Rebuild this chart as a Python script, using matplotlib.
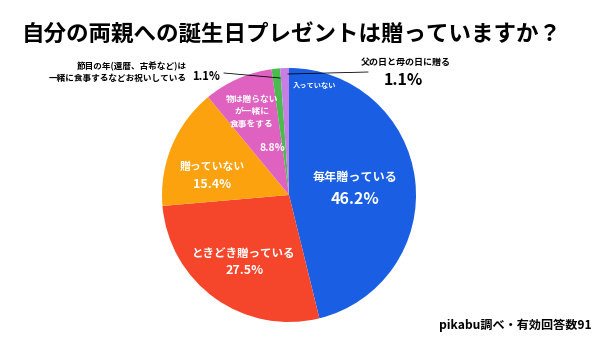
import matplotlib
matplotlib.use("Agg")
import matplotlib.pyplot as plt

plt.rcParams['font.family'] = ['Noto Sans CJK JP', 'DejaVu Sans']

labels = ['毎年贈っている', 'ときどき贈っている', '贈っていない',
          '物は贈らない\nが一緒に\n食事をする', '節目の年', '父の日と母の日に贈る']
values = [46.2, 27.5, 15.4, 8.8, 1.1, 1.1]
colors = ['#1a5fe3', '#f5452b', '#fca20f', '#df62c1', '#4cbb4f', '#c67fe2']

fig = plt.figure(figsize=(6, 3.37), dpi=100)
ax = fig.add_axes([(289 - 127) / 600, 1 - (195 + 127) / 337, 254 / 600, 254 / 337])
ax.pie(values, colors=colors, startangle=90, counterclock=False,
       wedgeprops=dict(linewidth=0))
ax.set_aspect('equal')
ax.set_xlim(-1, 1)
ax.set_ylim(-1, 1)
ax.axis('off')

def fx(px):
    return px / 600

def fy(py):
    return 1 - py / 337

fig.text(fx(22), fy(35), '自分の両親への誕生日プレゼントは贈っていますか？',
         fontsize=16.2, fontweight='bold', va='center', ha='left')

# inside labels
fig.text(fx(355), fy(177), labels[0], color='white', fontsize=8.7, fontweight='bold', ha='center', va='center')
fig.text(fx(355), fy(199), '46.2%', color='white', fontsize=11.5, fontweight='bold', ha='center', va='center')
fig.text(fx(244), fy(253), labels[1], color='white', fontsize=8.3, fontweight='bold', ha='center', va='center')
fig.text(fx(245), fy(271), '27.5%', color='white', fontsize=9, fontweight='bold', ha='center', va='center')
fig.text(fx(212), fy(167), labels[2], color='white', fontsize=7.8, fontweight='bold', ha='center', va='center')
fig.text(fx(212), fy(184), '15.4%', color='white', fontsize=9, fontweight='bold', ha='center', va='center')
fig.text(fx(252), fy(112), labels[3], color='white', fontsize=6.3, fontweight='bold', ha='center', va='center', linespacing=1.45)
fig.text(fx(272), fy(148), '8.8%', color='white', fontsize=7.5, fontweight='bold', ha='center', va='center')
fig.text(fx(315), fy(85), '入っていない', color='white', fontsize=5.2, fontweight='bold', ha='center', va='center')

# outside labels
fig.text(fx(187), fy(72), '節目の年(還暦、古希など)は\n一緒に食事するなどお祝いしている',
         fontsize=6.2, fontweight='bold', ha='right', va='center', linespacing=1.4)
fig.text(fx(192), fy(77), '1.1%', fontsize=8.2, fontweight='bold', ha='left', va='center')
fig.add_artist(plt.Line2D([fx(224), fx(280)], [fy(73), fy(78)], color='black', lw=0.6))

fig.text(fx(406), fy(62), labels[5], fontsize=6.5, fontweight='bold', ha='center', va='center')
fig.text(fx(403), fy(80), '1.1%', fontsize=11.5, fontweight='bold', ha='center', va='center')
fig.add_artist(plt.Line2D([fx(288), fx(368)], [fy(74), fy(72)], color='black', lw=0.6))

fig.text(fx(592), fy(325), 'pikabu調べ・有効回答数91', fontsize=8.7, fontweight='bold', ha='right', va='center')

fig.savefig('out.png', dpi=100, facecolor='white')
